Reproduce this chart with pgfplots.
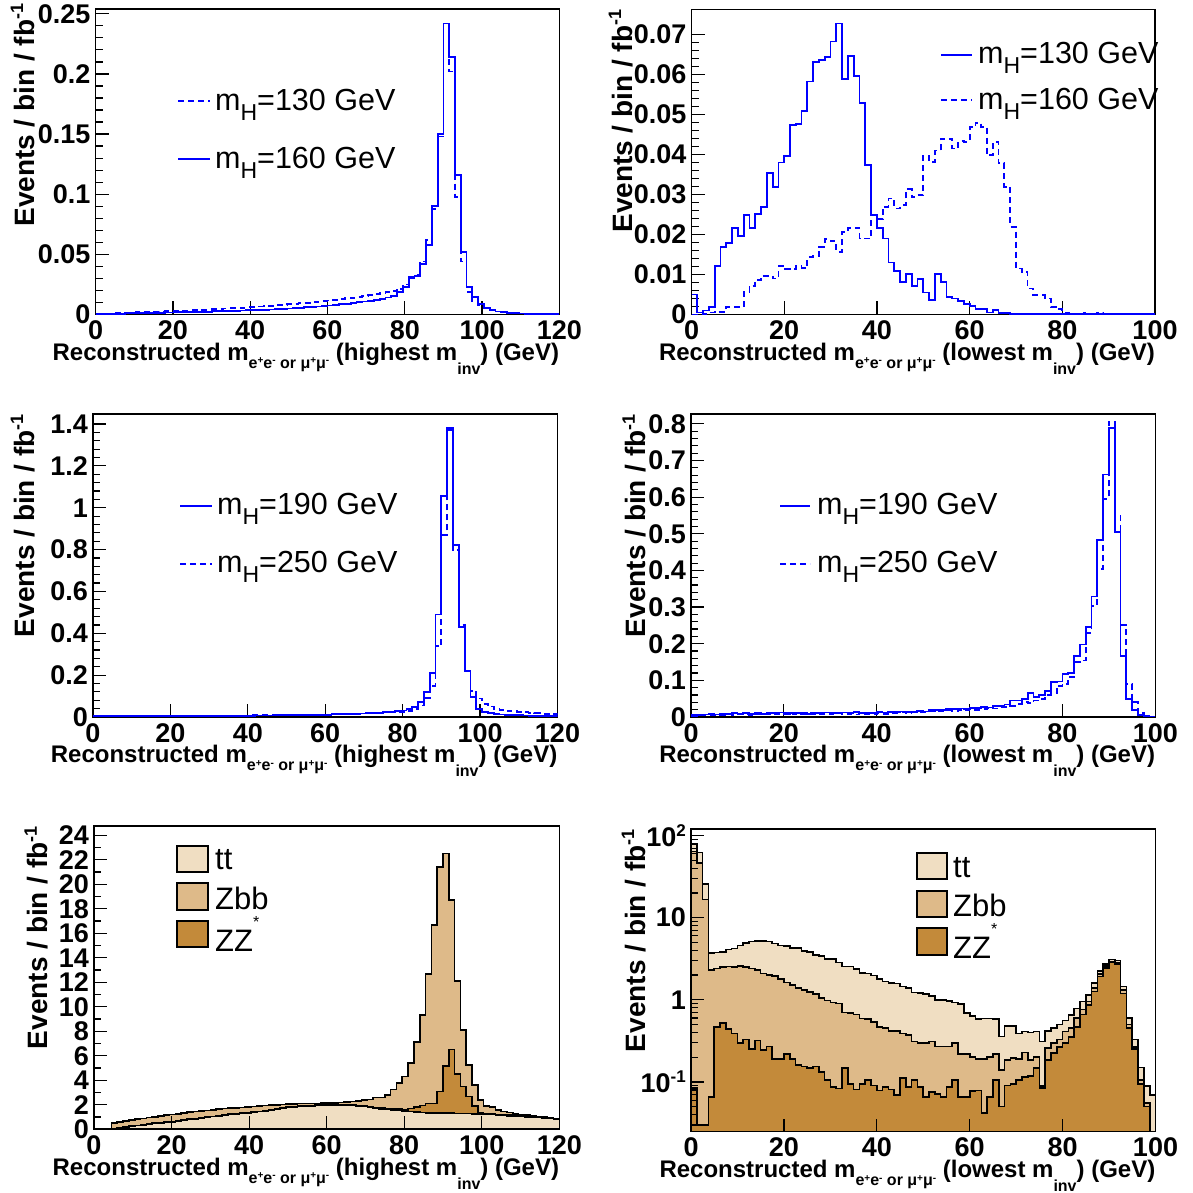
\documentclass[border=0pt]{standalone}
\usepackage{fontspec}
\setmainfont{Liberation Sans}
\usepackage{pgfplots}
\usepackage{pgfplotstable}
\pgfplotsset{compat=1.18}
\definecolor{rootblue}{RGB}{0,0,255}
\definecolor{ttcol}{RGB}{240,222,194}
\definecolor{zbbcol}{RGB}{222,186,137}
\definecolor{zzcol}{RGB}{195,138,58}

\newcommand{\tickfont}{\fontsize{27}{27}\selectfont\bfseries}
\newcommand{\xlabfont}{\fontsize{24}{24}\selectfont\bfseries}
\newcommand{\ylabfont}{\fontsize{28}{28}\selectfont\bfseries}
\newcommand{\legfont}{\fontsize{30.5}{30.5}\selectfont}
\newcommand{\stkfont}{\fontsize{31}{31}\selectfont}
\newcommand{\smsup}[1]{\raisebox{4.5pt}{\fontsize{10}{10}\selectfont #1}}
\newcommand{\xlab}[1]{Reconstructed m\raisebox{-8pt}{\fontsize{16}{16}\selectfont e\smsup{+}e\smsup{-} or μ\smsup{+}μ\smsup{-}} (#1 m\raisebox{-14pt}{\fontsize{16}{16}\selectfont inv}) (GeV)}
\newcommand{\ylab}{Events / bin / fb\raisebox{11pt}{\fontsize{18}{18}\selectfont -1}}
\newcommand{\mH}[1]{m\raisebox{-10pt}{\fontsize{23}{23}\selectfont H}=#1 GeV}
\newcommand{\ysup}[1]{\raisebox{10pt}{\fontsize{17}{17}\selectfont #1}}

\pgfplotsset{
 rootax/.style={
  scale only axis, anchor=south west,
  axis line style={line width=1.5pt},
  tick style={black, line width=1.2pt},
  major tick length=13pt, minor tick length=7pt,
  tick pos=left, tick align=inside,
  scaled x ticks=false, scaled y ticks=false,
  ticklabel style={font=\tickfont},
  xticklabel style={inner sep=0pt, anchor=north, yshift=-6pt},
  yticklabel style={inner sep=0pt, anchor=east, xshift=-5pt},
  xlabel style={font=\xlabfont, at={(axis description cs:1,0)}, anchor=base east, yshift=-46pt, inner sep=0pt},
  ylabel style={font=\ylabfont, anchor=base east, inner sep=0pt},
  clip=true,
 },
 solhist/.style={draw=rootblue, line width=1.8pt, const plot mark left, mark=none},
 dashhist/.style={draw=rootblue, line width=1.8pt, const plot mark left, mark=none, dash pattern=on 6pt off 4pt},
 stk/.style={draw=black, line width=1.6pt, const plot mark left, mark=none, fill=#1},
}

% top left: highest m_inv, mH=130 (dashed) and mH=160 (solid)
\pgfplotstableread{
x d s
0 0.0005 0.0003
1.5 0.0006 0.0004
3 0.0008 0.0005
4.5 0.0010 0.0006
6 0.0012 0.0007
7.5 0.0014 0.0008
9 0.0016 0.0010
10.5 0.0018 0.0011
12 0.0020 0.0012
13.5 0.0021 0.0013
15 0.0023 0.0014
16.5 0.0025 0.0015
18 0.0027 0.0016
19.5 0.0029 0.0017
21 0.0031 0.0018
22.5 0.0033 0.0019
24 0.0035 0.0020
25.5 0.0037 0.0022
27 0.0040 0.0023
28.5 0.0042 0.0024
30 0.0044 0.0026
31.5 0.0046 0.0027
33 0.0049 0.0028
34.5 0.0051 0.0030
36 0.0054 0.0031
37.5 0.0057 0.0033
39 0.0060 0.0035
40.5 0.0063 0.0036
42 0.0066 0.0038
43.5 0.0070 0.0040
45 0.0073 0.0042
46.5 0.0077 0.0045
48 0.0081 0.0047
49.5 0.0085 0.0050
51 0.0089 0.0053
52.5 0.0093 0.0056
54 0.0098 0.0059
55.5 0.0102 0.0063
57 0.0107 0.0066
58.5 0.0112 0.0070
60 0.0117 0.0074
61.5 0.0123 0.0079
63 0.0128 0.0084
64.5 0.0134 0.0089
66 0.0140 0.0095
67.5 0.0147 0.0101
69 0.0154 0.0108
70.5 0.0161 0.0115
72 0.0168 0.0123
73.5 0.0176 0.0132
75 0.0184 0.0142
76.5 0.0192 0.0155
78 0.0215 0.0190
79.5 0.0250 0.0230
81 0.0300 0.0310
82.5 0.0330 0.0320
84 0.0440 0.0420
85.5 0.0620 0.0580
87 0.0880 0.0900
88.5 0.1480 0.1500
90 0.2420 0.2420
91.5 0.2020 0.2140
93 0.0980 0.1160
94.5 0.0440 0.0520
96 0.0190 0.0230
97.5 0.0110 0.0146
99 0.0080 0.0090
100.5 0.0050 0.0055
102 0.0035 0.0035
103.5 0.0025 0.0025
105 0.0018 0.0018
106.5 0.0013 0.0013
108 0.0010 0.0010
109.5 0.0008 0.0008
111 0.0006 0.0006
112.5 0.0005 0.0005
114 0.0004 0.0004
115.5 0.0003 0.0003
117 0.0003 0.0003
118.5 0.0002 0.0002
120 0.0002 0.0002
}\tabTL

% top right: lowest m_inv, mH=130 (solid) and mH=160 (dashed)
\pgfplotstableread{
x s d
0 0.0050 0.0000
1.25 0.0005 0.0000
2.5 0.0010 0.0002
3.75 0.0018 0.0005
5 0.0121 0.0007
6.25 0.0169 0.0007
7.5 0.0178 0.0018
8.75 0.0217 0.0018
10 0.0197 0.0018
11.25 0.0248 0.0057
12.5 0.0217 0.0072
13.75 0.0252 0.0086
15 0.0269 0.0097
16.25 0.0354 0.0097
17.5 0.0319 0.0090
18.75 0.0380 0.0121
20 0.0396 0.0113
21.25 0.0475 0.0113
22.5 0.0477 0.0121
23.75 0.0509 0.0117
25 0.0583 0.0144
26.25 0.0632 0.0147
27.5 0.0636 0.0169
28.75 0.0644 0.0188
30 0.0683 0.0183
31.25 0.0728 0.0157
32.5 0.0590 0.0207
33.75 0.0647 0.0217
35 0.0596 0.0217
36.25 0.0530 0.0190
37.5 0.0373 0.0190
38.75 0.0248 0.0248
40 0.0217 0.0238
41.25 0.0190 0.0269
42.5 0.0130 0.0290
43.75 0.0109 0.0265
45 0.0082 0.0273
46.25 0.0101 0.0313
47.5 0.0071 0.0294
48.75 0.0088 0.0298
50 0.0055 0.0397
51.25 0.0036 0.0382
52.5 0.0101 0.0410
53.75 0.0082 0.0440
55 0.0044 0.0440
56.25 0.0040 0.0415
57.5 0.0033 0.0433
58.75 0.0027 0.0432
60 0.0022 0.0469
61.25 0.0014 0.0480
62.5 0.0014 0.0469
63.75 0.0005 0.0398
65 0.0012 0.0432
66.25 0.0003 0.0378
67.5 0.0003 0.0319
68.75 0.0002 0.0219
70 0.0002 0.0115
71.25 0.0002 0.0107
72.5 0.0002 0.0065
73.75 0.0001 0.0048
75 0.0001 0.0048
76.25 0.0001 0.0040
77.5 0.0001 0.0019
78.75 0.0001 0.0013
80 0.0001 0.0005
81.25 0.0001 0.0003
82.5 0.0001 0.0002
83.75 0.0001 0.0003
85 0.0001 0.0002
86.25 0.0001 0.0002
87.5 0.0001 0.0003
88.75 0.0001 0.0002
90 0.0001 0.0002
91.25 0.0001 0.0002
92.5 0.0001 0.0001
93.75 0.0001 0.0002
95 0.0001 0.0001
96.25 0.0001 0.0001
97.5 0.0001 0.0001
98.75 0.0001 0.0001
100 0.0001 0.0001
}\tabTR

% middle left: highest m_inv, mH=190 (solid), mH=250 (dashed)
\pgfplotstableread{
x s d
0 0.003 0.004
1.5 0.003 0.004
3 0.003 0.004
4.5 0.003 0.004
6 0.003 0.004
7.5 0.003 0.005
9 0.004 0.005
10.5 0.004 0.005
12 0.004 0.005
13.5 0.004 0.005
15 0.004 0.005
16.5 0.004 0.005
18 0.004 0.005
19.5 0.004 0.006
21 0.004 0.006
22.5 0.005 0.006
24 0.005 0.006
25.5 0.005 0.006
27 0.005 0.006
28.5 0.005 0.006
30 0.005 0.006
31.5 0.005 0.007
33 0.005 0.007
34.5 0.006 0.007
36 0.006 0.007
37.5 0.006 0.007
39 0.006 0.007
40.5 0.006 0.008
42 0.007 0.008
43.5 0.007 0.008
45 0.007 0.008
46.5 0.007 0.009
48 0.008 0.009
49.5 0.008 0.009
51 0.008 0.010
52.5 0.009 0.010
54 0.009 0.010
55.5 0.010 0.011
57 0.010 0.011
58.5 0.011 0.012
60 0.011 0.012
61.5 0.012 0.013
63 0.013 0.013
64.5 0.014 0.014
66 0.015 0.015
67.5 0.016 0.016
69 0.017 0.017
70.5 0.018 0.018
72 0.019 0.019
73.5 0.020 0.020
75 0.022 0.021
76.5 0.024 0.022
78 0.027 0.023
79.5 0.031 0.025
81 0.038 0.029
82.5 0.047 0.038
84 0.071 0.055
85.5 0.118 0.090
87 0.209 0.150
88.5 0.490 0.340
90 1.058 0.869
91.5 1.382 1.370
93 0.821 0.798
94.5 0.430 0.440
96 0.221 0.220
97.5 0.095 0.126
99 0.040 0.088
100.5 0.024 0.063
102 0.018 0.050
103.5 0.015 0.040
105 0.012 0.035
106.5 0.010 0.030
108 0.009 0.028
109.5 0.008 0.025
111 0.007 0.022
112.5 0.006 0.020
114 0.005 0.018
115.5 0.005 0.016
117 0.004 0.015
118.5 0.004 0.014
120 0.004 0.014
}\tabML

% middle right: lowest m_inv, mH=190 (solid), mH=250 (dashed)
\pgfplotstableread{
x s d
0 0.005 0.003
1.25 0.006 0.004
2.5 0.007 0.005
3.75 0.008 0.006
5 0.007 0.006
6.25 0.009 0.005
7.5 0.008 0.007
8.75 0.010 0.006
10 0.009 0.008
11.25 0.011 0.007
12.5 0.008 0.006
13.75 0.010 0.008
15 0.009 0.007
16.25 0.011 0.009
17.5 0.010 0.007
18.75 0.012 0.008
20 0.009 0.010
21.25 0.011 0.007
22.5 0.010 0.009
23.75 0.012 0.008
25 0.009 0.010
26.25 0.011 0.008
27.5 0.010 0.009
28.75 0.012 0.007
30 0.011 0.009
31.25 0.010 0.010
32.5 0.012 0.008
33.75 0.011 0.009
35 0.013 0.007
36.25 0.010 0.010
37.5 0.012 0.009
38.75 0.011 0.008
40 0.013 0.010
41.25 0.012 0.009
42.5 0.014 0.010
43.75 0.013 0.011
45 0.015 0.012
46.25 0.014 0.011
47.5 0.013 0.012
48.75 0.016 0.013
50 0.015 0.012
51.25 0.018 0.015
52.5 0.020 0.017
53.75 0.019 0.016
55 0.022 0.018
56.25 0.021 0.017
57.5 0.023 0.020
58.75 0.022 0.019
60 0.025 0.021
61.25 0.024 0.020
62.5 0.027 0.022
63.75 0.026 0.024
65 0.030 0.023
66.25 0.029 0.026
67.5 0.034 0.028
68.75 0.045 0.030
70 0.045 0.035
71.25 0.050 0.040
72.5 0.065 0.038
73.75 0.054 0.045
75 0.060 0.050
76.25 0.072 0.060
77.5 0.095 0.065
78.75 0.097 0.085
80 0.117 0.090
81.25 0.119 0.110
82.5 0.167 0.150
83.75 0.198 0.154
85 0.245 0.230
86.25 0.329 0.303
87.5 0.482 0.405
88.75 0.662 0.595
90 0.788 0.806
91.25 0.505 0.550
92.5 0.167 0.252
93.75 0.050 0.090
95 0.018 0.040
96.25 0.005 0.010
97.5 0.002 0.003
98.75 0.001 0.001
100 0.001 0.001
}\tabMR

% bottom left: cumulative stack, t1 = tt, t2 = tt+ZZ*, t3 = tt+ZZ*+Zbb
\pgfplotstableread{
x t1 t2 t3
0 0 0 0
1.5 0 0 0
3 0 0 0
4.5 0.05 0.07 0.49
6 0.12 0.14 0.58
7.5 0.18 0.20 0.66
9 0.24 0.26 0.74
10.5 0.30 0.32 0.82
12 0.36 0.38 0.89
13.5 0.42 0.44 0.96
15 0.48 0.50 1.02
16.5 0.53 0.55 1.09
18 0.58 0.60 1.15
19.5 0.62 0.64 1.22
21 0.68 0.70 1.27
22.5 0.74 0.76 1.33
24 0.80 0.82 1.39
25.5 0.86 0.88 1.44
27 0.92 0.94 1.50
28.5 0.98 1.00 1.55
30 1.04 1.06 1.59
31.5 1.10 1.12 1.64
33 1.16 1.18 1.69
34.5 1.21 1.23 1.72
36 1.26 1.28 1.76
37.5 1.31 1.33 1.79
39 1.35 1.37 1.83
40.5 1.40 1.42 1.86
42 1.44 1.46 1.90
43.5 1.51 1.53 1.93
45 1.58 1.60 1.96
46.5 1.65 1.67 1.99
48 1.72 1.74 2.02
49.5 1.78 1.80 2.05
51 1.82 1.84 2.07
52.5 1.86 1.88 2.09
54 1.89 1.91 2.10
55.5 1.92 1.94 2.11
57 1.95 1.97 2.12
58.5 1.97 1.99 2.13
60 1.98 2.00 2.14
61.5 1.99 2.01 2.16
63 1.99 2.01 2.19
64.5 1.98 2.00 2.22
66 1.95 1.97 2.26
67.5 1.90 1.92 2.31
69 1.85 1.88 2.37
70.5 1.80 1.83 2.44
72 1.74 1.78 2.61
73.5 1.68 1.73 2.61
75 1.63 1.69 2.80
76.5 1.58 1.66 3.26
78 1.53 1.64 3.76
79.5 1.49 1.63 4.30
81 1.45 1.70 5.39
82.5 1.41 1.80 7.15
84 1.37 1.95 9.33
85.5 1.35 2.12 12.7
87 1.33 2.12 16.7
88.5 1.32 3.07 21.4
90 1.31 5.17 22.5
91.5 1.31 6.53 18.7
93 1.30 4.51 12.1
94.5 1.29 3.49 8.1
96 1.28 2.67 5.25
97.5 1.27 1.90 3.62
99 1.25 1.31 2.40
100.5 1.23 1.28 1.90
102 1.20 1.25 1.80
103.5 1.17 1.22 1.58
105 1.14 1.19 1.45
106.5 1.11 1.16 1.37
108 1.08 1.13 1.26
109.5 1.05 1.10 1.21
111 1.02 1.07 1.15
112.5 0.99 1.03 1.10
114 0.96 1.00 1.04
115.5 0.92 0.96 0.99
117 0.88 0.92 0.93
118.5 0.84 0.88 0.88
120 0.84 0.88 0.88
}\tabBL

% bottom right (log): c1 = ZZ*, c2 = ZZ*+Zbb, c3 = total
\pgfplotstableread{
x c1 c2 c3
0 0.001 0.001 0.001
0 0.084 64 78
1.25 0.030 46 62
2.5 0.030 16.6 25.5
3.75 0.066 2.32 3.7
5 0.47 2.40 3.75
6.25 0.52 2.50 3.80
7.5 0.44 2.55 4.10
8.75 0.39 2.50 4.20
10 0.30 2.60 4.56
11.25 0.33 2.50 4.90
12.5 0.25 2.40 5.14
13.75 0.32 2.32 5.20
15 0.245 2.10 5.20
16.25 0.27 2.00 5.14
17.5 0.19 1.94 4.82
18.75 0.19 1.80 4.56
20 0.22 1.62 4.50
21.25 0.19 1.52 4.30
22.5 0.16 1.40 4.30
23.75 0.155 1.32 3.95
25 0.148 1.24 3.85
26.25 0.155 1.17 3.53
27.5 0.132 1.05 3.40
28.75 0.105 0.98 3.15
30 0.087 0.93 3.15
31.25 0.083 0.90 2.85
32.5 0.148 0.70 2.55
33.75 0.095 0.69 2.55
35 0.081 0.66 2.38
36.25 0.095 0.59 2.11
37.5 0.105 0.58 2.08
38.75 0.091 0.54 1.97
40 0.079 0.47 1.78
41.25 0.087 0.45 1.67
42.5 0.081 0.42 1.60
43.75 0.069 0.42 1.58
45 0.111 0.39 1.46
46.25 0.087 0.374 1.40
47.5 0.105 0.31 1.23
48.75 0.087 0.30 1.21
50 0.066 0.30 1.17
51.25 0.076 0.31 1.12
52.5 0.071 0.27 1.00
53.75 0.066 0.27 0.99
55 0.087 0.27 0.97
56.25 0.105 0.30 0.93
57.5 0.066 0.22 0.89
58.75 0.066 0.22 0.69
60 0.078 0.20 0.64
61.25 0.079 0.19 0.58
62.5 0.042 0.19 0.59
63.75 0.066 0.20 0.59
65 0.105 0.22 0.58
66.25 0.050 0.14 0.357
67.5 0.091 0.185 0.48
68.75 0.095 0.195 0.48
70 0.106 0.19 0.39
71.25 0.114 0.228 0.41
72.5 0.118 0.185 0.40
73.75 0.147 0.20 0.41
75 0.084 0.09 0.31
76.25 0.185 0.257 0.42
77.5 0.224 0.296 0.45
78.75 0.265 0.33 0.50
80 0.30 0.41 0.56
81.25 0.35 0.45 0.65
82.5 0.47 0.60 0.78
83.75 0.66 0.76 0.95
85 0.87 0.955 1.15
86.25 1.26 1.40 1.60
87.5 1.93 2.07 2.25
88.75 2.43 2.60 2.75
90 2.85 2.93 3.10
91.25 2.75 2.85 3.00
92.5 1.20 1.32 1.45
93.75 0.45 0.50 0.60
95 0.25 0.265 0.33
96.25 0.095 0.106 0.15
97.5 0.05 0.055 0.09
98.75 0.001 0.001 0.069
100 0.001 0.001 0.069
100 0.001 0.001 0.001
}\tabBR

\begin{document}
\begin{tikzpicture}[x=1pt,y=1pt]
\path[use as bounding box] (0,0) rectangle (1192,1193);

% ---------- top left
\begin{axis}[rootax, at={(95.7pt,878.5pt)}, width=463.6pt, height=305.5pt,
  xmin=0, xmax=120, ymin=0, ymax=0.254,
  xtick={0,20,40,60,80,100,120}, xticklabels={0,20,40,60,80,100,120},
  ytick={0,0.05,0.1,0.15,0.2,0.25}, yticklabels={0,0.05,0.1,0.15,0.2,0.25},
  minor y tick num=4,
  xlabel={\xlab{highest}}, ylabel={\ylab},
  ylabel style={at={(axis description cs:-0.133,1.018)}}]
\addplot[dashhist] table[x=x,y=d]{\tabTL};
\addplot[solhist] table[x=x,y=s]{\tabTL};
\end{axis}

% ---------- top right
\begin{axis}[rootax, at={(691.5pt,878.5pt)}, width=463.5pt, height=305pt,
  xmin=0, xmax=100, ymin=0, ymax=0.0763,
  xtick={0,20,40,60,80,100}, xticklabels={0,20,40,60,80,100},
  ytick={0,0.01,0.02,0.03,0.04,0.05,0.06,0.07}, yticklabels={0,0.01,0.02,0.03,0.04,0.05,0.06,0.07},
  minor y tick num=4,
  xlabel={\xlab{lowest}}, ylabel={\ylab},
  ylabel style={at={(axis description cs:-0.128,1.0)}}]
\addplot[dashhist] table[x=x,y=d]{\tabTR};
\addplot[solhist] table[x=x,y=s]{\tabTR};
\end{axis}

% ---------- middle left
\begin{axis}[rootax, at={(93pt,476pt)}, width=464.5pt, height=303pt,
  xmin=0, xmax=120, ymin=0, ymax=1.448,
  xtick={0,20,40,60,80,100,120}, xticklabels={0,20,40,60,80,100,120},
  ytick={0,0.2,0.4,0.6,0.8,1,1.2,1.4}, yticklabels={0,0.2,0.4,0.6,0.8,1,1.2,1.4},
  minor y tick num=4,
  xlabel={\xlab{highest}}, ylabel={\ylab},
  ylabel style={at={(axis description cs:-0.127,1.0)}}]
\addplot[dashhist] table[x=x,y=d]{\tabML};
\addplot[solhist] table[x=x,y=s]{\tabML};
\end{axis}

% ---------- middle right
\begin{axis}[rootax, at={(691pt,476pt)}, width=464.3pt, height=303pt,
  xmin=0, xmax=100, ymin=0, ymax=0.827,
  xtick={0,20,40,60,80,100}, xticklabels={0,20,40,60,80,100},
  ytick={0,0.1,0.2,0.3,0.4,0.5,0.6,0.7,0.8}, yticklabels={0,0.1,0.2,0.3,0.4,0.5,0.6,0.7,0.8},
  minor y tick num=4,
  xlabel={\xlab{lowest}}, ylabel={\ylab},
  ylabel style={at={(axis description cs:-0.097,1.0)}}]
\addplot[dashhist] table[x=x,y=d]{\tabMR};
\addplot[solhist] table[x=x,y=s]{\tabMR};
\end{axis}

% ---------- bottom left
\begin{axis}[rootax, at={(94pt,63.7pt)}, width=465.3pt, height=303.3pt,
  xmin=0, xmax=120, ymin=0, ymax=24.76,
  xtick={0,20,40,60,80,100,120}, xticklabels={0,20,40,60,80,100,120},
  ytick={0,2,4,6,8,10,12,14,16,18,20,22,24}, yticklabels={0,2,4,6,8,10,12,14,16,18,20,22,24},
  minor y tick num=1,
  xlabel={\xlab{highest}}, ylabel={\ylab},
  ylabel style={at={(axis description cs:-0.099,1.0)}},
  axis on top]
\addplot[stk=zbbcol] table[x=x,y=t3]{\tabBL} \closedcycle;
\addplot[stk=zzcol] table[x=x,y=t2]{\tabBL} \closedcycle;
\addplot[stk=ttcol] table[x=x,y=t1]{\tabBL} \closedcycle;
\end{axis}

% ---------- bottom right (log)
\begin{axis}[rootax, at={(691pt,61.3pt)}, width=464.5pt, height=302.7pt,
  xmin=0, xmax=100, ymode=log, ymin=0.0248, ymax=120,
  xtick={0,20,40,60,80,100}, xticklabels={0,20,40,60,80,100},
  ytick={0.1,1,10,100}, yticklabels={10\ysup{-1},1,10,10\ysup{2}},
  minor ytick={0.03,0.04,0.05,0.06,0.07,0.08,0.09,0.2,0.3,0.4,0.5,0.6,0.7,0.8,0.9,2,3,4,5,6,7,8,9,20,30,40,50,60,70,80,90},
  xlabel={\xlab{lowest}}, ylabel={\ylab},
  ylabel style={at={(axis description cs:-0.099,1.0)}},
  axis on top]
\addplot[stk=ttcol] table[x=x,y=c3]{\tabBR};
\addplot[stk=zbbcol] table[x=x,y=c2]{\tabBR};
\addplot[stk=zzcol] table[x=x,y=c1]{\tabBR};
\end{axis}

% ---------- legends
\begin{scope}[every node/.style={anchor=base west, inner sep=0pt}]
% top left
\draw[rootblue, line width=1.5pt, dash pattern=on 6pt off 4pt] (178,1092) -- (210,1092);
\node[font=\legfont] at (215,1082) {\mH{130}};
\draw[rootblue, line width=1.5pt] (178,1034) -- (210,1034);
\node[font=\legfont] at (215,1024.5) {\mH{160}};
% top right
\draw[rootblue, line width=1.5pt] (941,1138) -- (972,1138);
\node[font=\legfont] at (978,1129.7) {\mH{130}};
\draw[rootblue, line width=1.5pt, dash pattern=on 6pt off 4pt] (941,1093) -- (972,1093);
\node[font=\legfont] at (978,1083.7) {\mH{160}};
% middle left
\draw[rootblue, line width=1.5pt] (180,687) -- (212,687);
\node[font=\legfont] at (217,678) {\mH{190}};
\draw[rootblue, line width=1.5pt, dash pattern=on 6pt off 4pt] (180,629) -- (212,629);
\node[font=\legfont] at (217,620.3) {\mH{250}};
% middle right
\draw[rootblue, line width=1.5pt] (780,687) -- (810,687);
\node[font=\legfont] at (817,678) {\mH{190}};
\draw[rootblue, line width=1.5pt, dash pattern=on 6pt off 4pt] (780,629) -- (810,629);
\node[font=\legfont] at (817,620.3) {\mH{250}};
% bottom left
\draw[fill=ttcol, line width=1.5pt] (177,321) rectangle (208,347);
\node[font=\stkfont] at (215,323) {tt};
\draw[fill=zbbcol, line width=1.5pt] (177,283) rectangle (208,310);
\node[font=\stkfont] at (215,283.7) {Zbb};
\draw[fill=zzcol, line width=1.5pt] (177,246) rectangle (208,272);
\node[font=\stkfont] at (215,241.3) {ZZ\raisebox{24pt}{\fontsize{16}{16}\selectfont *}};
% bottom right
\draw[fill=ttcol, line width=1.5pt] (917,314) rectangle (947,340);
\node[font=\stkfont] at (953,315.7) {tt};
\draw[fill=zbbcol, line width=1.5pt] (917,276) rectangle (947,302);
\node[font=\stkfont] at (953,276.3) {Zbb};
\draw[fill=zzcol, line width=1.5pt] (917,238) rectangle (947,265);
\node[font=\stkfont] at (953,234.7) {ZZ\raisebox{24pt}{\fontsize{16}{16}\selectfont *}};
\end{scope}
\end{tikzpicture}
\end{document}
